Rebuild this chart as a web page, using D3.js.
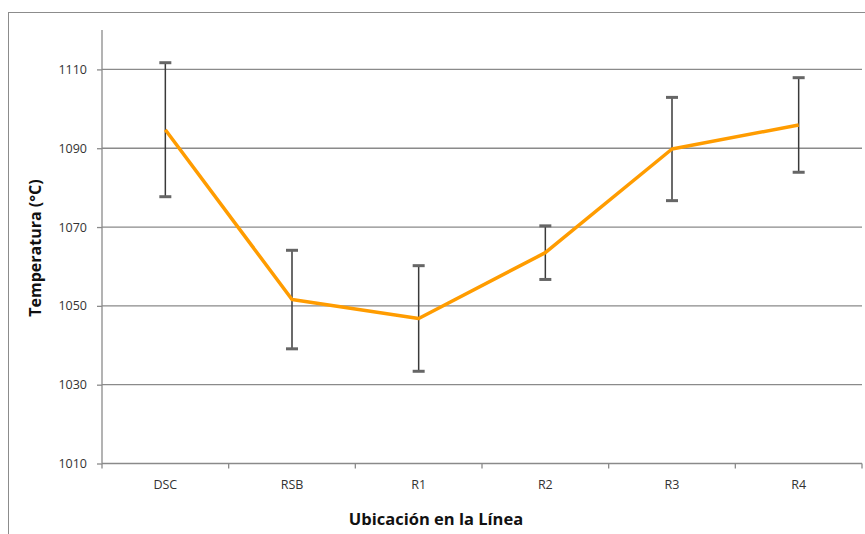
<!DOCTYPE html>
<html>
<head>
<meta charset="utf-8">
<script src="https://cdn.jsdelivr.net/npm/d3@7"></script>
<style>
  html, body { margin: 0; padding: 0; background: #fff; }
  svg { display: block; }
  text { font-family: "Open Sans", sans-serif; }
</style>
</head>
<body>
<svg id="chart" width="865" height="534"></svg>
<script>
// Mean temperature per location along the line, with ± deviation
const categories = ["DSC", "RSB", "R1", "R2", "R3", "R4"];
const meanTemp = [1094.7, 1051.6, 1046.8, 1063.5, 1089.8, 1095.9];
const errTemp  = [17.0, 12.5, 13.4, 6.8, 13.1, 12.0];
const yTicks   = [1010, 1030, 1050, 1070, 1090, 1110];

const svg = d3.select("#chart");
const plot = { left: 102, right: 862, top: 30, bottom: 463.5 };

// outer chart frame
svg.append("rect")
  .attr("x", 8.5).attr("y", 12.5)
  .attr("width", 870).attr("height", 540)
  .attr("fill", "none").attr("stroke", "#8c8c8c").attr("stroke-width", 1);

const x = d3.scaleBand().domain(categories).range([plot.left, plot.right]);
const y = d3.scaleLinear().domain([1010, 1120]).range([plot.bottom, plot.top]);

// horizontal gridlines
svg.append("g")
  .selectAll("line").data(yTicks.slice(1)).join("line")
  .attr("x1", plot.left).attr("x2", plot.right)
  .attr("y1", d => y(d)).attr("y2", d => y(d))
  .attr("stroke", "#8a8a8a").attr("stroke-width", 1.3);

// y axis
const yAxis = svg.append("g")
  .attr("transform", `translate(${plot.left},0)`)
  .call(d3.axisLeft(y).tickValues(yTicks).tickSize(5).tickPadding(10).tickFormat(d3.format("d")));
yAxis.select(".domain").attr("stroke", "#8a8a8a").attr("stroke-width", 1.3)
  .attr("d", `M0,${plot.bottom}V${plot.top}`);
yAxis.selectAll(".tick line").attr("stroke", "#8a8a8a").attr("stroke-width", 1.3);
yAxis.selectAll(".tick text").attr("fill", "#333").style("font-size", "12.5px")
  .style("font-family", "'Open Sans', sans-serif");

// x axis with tick marks at category boundaries
const xAxisG = svg.append("g").attr("transform", `translate(0,${plot.bottom})`);
xAxisG.append("line")
  .attr("x1", plot.left).attr("x2", plot.right)
  .attr("stroke", "#8a8a8a").attr("stroke-width", 1.3);
const boundaries = categories.map(c => x(c)).concat([x(categories[categories.length - 1]) + x.bandwidth()]);
xAxisG.selectAll("line.b").data(boundaries).join("line").attr("class", "b")
  .attr("x1", d => d).attr("x2", d => d).attr("y1", 0).attr("y2", 5)
  .attr("stroke", "#8a8a8a").attr("stroke-width", 1.3);
xAxisG.selectAll("text").data(categories).join("text")
  .attr("x", d => x(d) + x.bandwidth() / 2).attr("y", 25)
  .attr("text-anchor", "middle").attr("fill", "#333")
  .style("font-size", "12.5px").text(d => d);

const cx = i => x(categories[i]) + x.bandwidth() / 2;

// error bars
const eb = svg.append("g");
eb.selectAll("line.v").data(meanTemp).join("line").attr("class", "v")
  .attr("x1", (d, i) => cx(i)).attr("x2", (d, i) => cx(i))
  .attr("y1", (d, i) => y(d + errTemp[i])).attr("y2", (d, i) => y(d - errTemp[i]))
  .attr("stroke", "#3a3a3a").attr("stroke-width", 1.5);
["hi", "lo"].forEach(k => {
  eb.selectAll("line." + k).data(meanTemp).join("line").attr("class", k)
    .attr("x1", (d, i) => cx(i) - 6).attr("x2", (d, i) => cx(i) + 6)
    .attr("y1", (d, i) => y(k === "hi" ? d + errTemp[i] : d - errTemp[i]))
    .attr("y2", (d, i) => y(k === "hi" ? d + errTemp[i] : d - errTemp[i]))
    .attr("stroke", "#666").attr("stroke-width", 3);
});

// mean temperature line
const line = d3.line().x((d, i) => cx(i)).y(d => y(d));
svg.append("path").datum(meanTemp)
  .attr("d", line).attr("fill", "none")
  .attr("stroke", "#FF9C00").attr("stroke-width", 3.5)
  .attr("stroke-linejoin", "round");

// axis titles
svg.append("text")
  .attr("x", 436).attr("y", 525).attr("text-anchor", "middle")
  .attr("fill", "#111").style("font-size", "16.5px").style("font-weight", "bold")
  .text("Ubicación en la Línea");
svg.append("text")
  .attr("transform", "translate(41,248) rotate(-90)").attr("text-anchor", "middle")
  .attr("fill", "#111").style("font-size", "16px").style("font-weight", "bold")
  .text("Temperatura (°C)");
</script>
</body>
</html>
